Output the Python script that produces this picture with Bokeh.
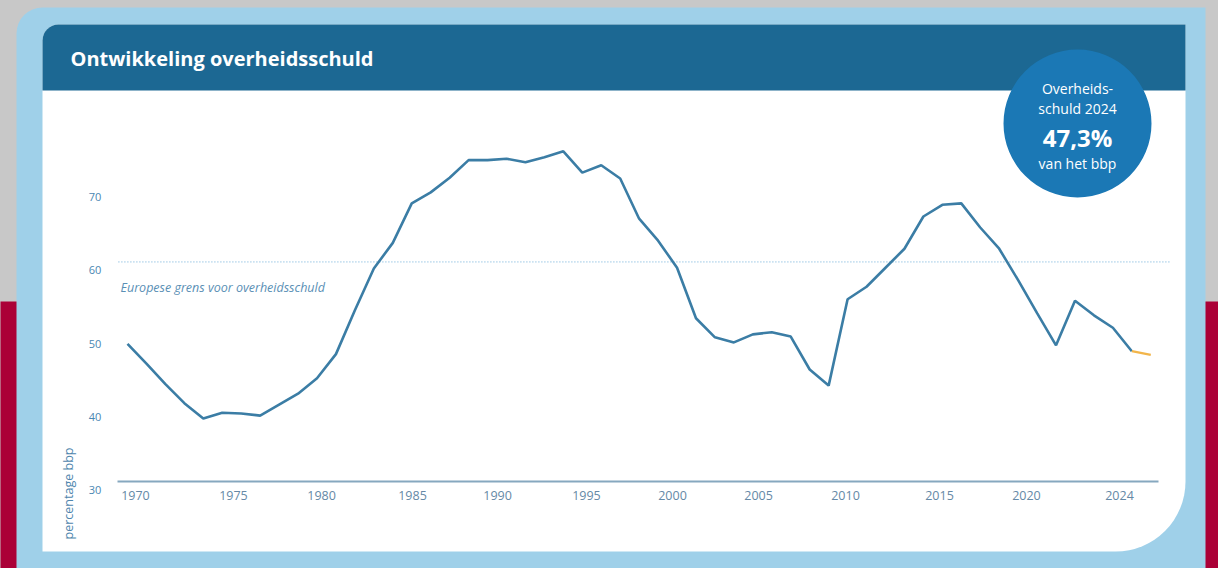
import math
from bokeh.plotting import figure
from bokeh.models import (BoxAnnotation, Label, FixedTicker, Range1d, LinearAxis)
from bokeh.embed import file_html
from bokeh.resources import INLINE

# ---- data ----
years = list(range(1970, 2025))
debt = [48.8, 46.1, 43.3, 40.7, 38.6, 39.4, 39.3, 39.0, 40.5, 42.0,
        44.1, 47.4, 53.4, 59.1, 62.6, 68.0, 69.5, 71.5, 73.9, 73.9,
        74.1, 73.6, 74.3, 75.1, 72.2, 73.2, 71.4, 65.9, 62.9, 59.2,
        52.3, 49.7, 49.0, 50.1, 50.4, 49.8, 45.3, 43.1, 54.9, 56.6,
        59.2, 61.8, 66.2, 67.8, 68.0, 64.7, 61.8, 57.5, 53.0, 48.6,
        54.7, 52.7, 51.0, 47.8, 47.3]
eu_limit = 60
y_ticks = [30, 40, 50, 60, 70]
x_tick_labels = ["1970", "1975", "1980", "1985", "1990", "1995",
                 "2000", "2005", "2010", "2015", "2020", "2024"]

# ---- layout / style ----
x_tick_pos = [1970.42, 1975.59, 1980.24, 1985.04, 1989.53, 1994.22,
              1998.76, 2003.30, 2007.89, 2012.85, 2017.44, 2022.35]
W, H = 1218, 568
X0, X1 = 1963.298, 2027.573     # data range covering the whole canvas
Y0, Y1 = 18.115, 95.710
LAB_SHIFT = 1.16                # tick labels sit slightly below their value
AXIS_START, AXIS_END = 1969.47, 2024.41
LIMIT_START, LIMIT_END = 1969.52, 2025.04
FONT = "Open Sans"
LINE = "#3b7da5"
ORANGE = "#f2b54a"
HEADER = "#1c6893"
CIRCLE = "#1b78b5"
LIGHT = "#9fd0e9"
CRIMSON = "#ab0037"
GREY = "#c8c8c8"
TXT = "#4f86ad"

p = figure(width=W, height=H, output_backend="svg", toolbar_location=None,
           x_range=Range1d(X0, X1), y_range=Range1d(Y0, Y1),
           min_border=0, min_border_left=0, min_border_right=0,
           min_border_top=0, min_border_bottom=0, y_axis_location=None,
           border_fill_color=GREY, background_fill_color=GREY,
           outline_line_color=None)
p.xgrid.visible = False
p.ygrid.visible = False

try:
    from bokeh.models import GlobalInlineStyleSheet
    p.stylesheets = [GlobalInlineStyleSheet(
        css="html,body{margin:0;overflow:hidden;background:%s;}" % GREY)]
except Exception:
    pass

# decoration in canvas pixels
def box(l, r, t, b, color, radius=0):
    bx = BoxAnnotation(left=l, right=r, top=t, bottom=b,
                       left_units="canvas", right_units="canvas",
                       top_units="canvas", bottom_units="canvas",
                       fill_color=color, fill_alpha=1, line_color=None,
                       border_radius=radius, level="underlay")
    p.add_layout(bx)

box(-10, W + 10, 301, H + 10, CRIMSON)
box(16, 1205, 7, H + 10, LIGHT, (26, 0, 0, 0))
box(42, 1185, 24, 551, "#ffffff", (16, 0, 70, 0))
box(42, 1185, 24, 90, HEADER, (16, 0, 0, 0))
box(1003, 1151, 49, 197, CIRCLE, 74)

def label(x, y, text, size, color, style="normal", align="left", angle=0):
    p.add_layout(Label(x=x, y=y, x_units="canvas", y_units="canvas", text=text,
                       text_font=FONT, text_font_size=size, text_color=color,
                       text_font_style=style, text_align=align,
                       text_baseline="middle", angle=angle))

label(70, 58, "Ontwikkeling overheidsschuld", "20px", "#ffffff", "bold")
label(1077, 88, "Overheids-", "14px", "#ffffff", align="center")
label(1077, 108, "schuld 2024", "14px", "#ffffff", align="center")
label(1077, 137, "47,3%", "24px", "#ffffff", "bold", align="center")
label(1077, 163, "van het bbp", "14px", "#ffffff", align="center")
label(120, 287, "Europese grens voor overheidsschuld", "12.5px", "#5a8fb5", "italic")
label(68, 493, "percentage bbp", "12.5px", TXT, align="center", angle=math.pi / 2)

# EU limit dotted reference line
p.segment(x0=[LIMIT_START], x1=[LIMIT_END], y0=[eu_limit], y1=[eu_limit],
          line_color="#a9cfe8", line_dash="1 2", line_width=1.6)

# data lines
p.line(years[:-1], debt[:-1], line_color=LINE, line_width=2.6)
p.line(years[-2:], debt[-2:], line_color=ORANGE, line_width=2.2)

# x axis drawn at the 30 baseline
xa = p.xaxis[0]
xa.fixed_location = 30
xa.bounds = (AXIS_START, AXIS_END)
xa.ticker = FixedTicker(ticks=x_tick_pos)
xa.major_label_overrides = {pos: lab for pos, lab in zip(x_tick_pos, x_tick_labels)}
xa.axis_line_color = "#86a8bf"
xa.axis_line_width = 2
xa.major_tick_line_color = None
xa.minor_tick_line_color = None
xa.major_tick_out = 0
xa.major_tick_in = 0
xa.major_label_standoff = 9
xa.major_label_text_font = FONT
xa.major_label_text_font_size = "12.5px"
xa.major_label_text_color = "#6589a6"

# y axis labels
p.extra_y_ranges = {"lab": Range1d(Y0 + LAB_SHIFT, Y1 + LAB_SHIFT)}
ya = LinearAxis(y_range_name="lab", ticker=FixedTicker(ticks=y_ticks),
                fixed_location=LIMIT_START)
ya.axis_line_color = None
ya.major_tick_line_color = None
ya.minor_tick_line_color = None
ya.major_tick_out = 0
ya.major_tick_in = 0
ya.major_label_standoff = 17
ya.major_label_text_font = FONT
ya.major_label_text_font_size = "11px"
ya.major_label_text_color = "#4a87b2"
p.add_layout(ya, "left")

open("out.html", "w").write(file_html(p, INLINE))
